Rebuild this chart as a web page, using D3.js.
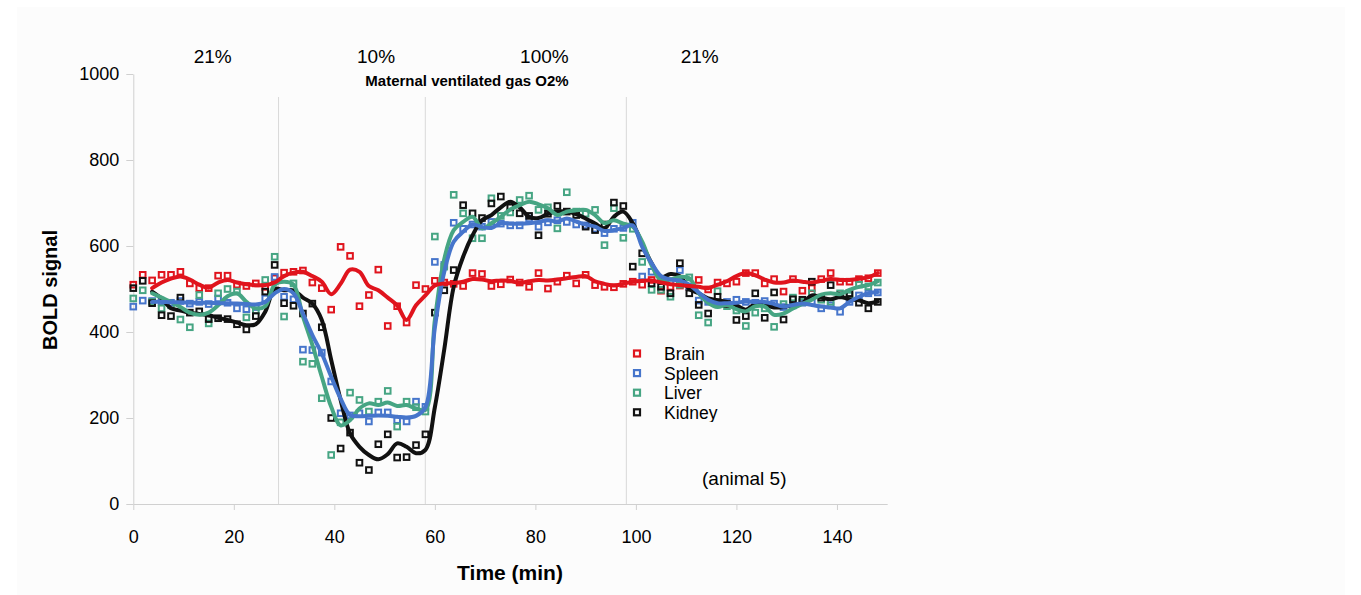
<!DOCTYPE html>
<html>
<head>
<meta charset="utf-8">
<script src="https://cdn.jsdelivr.net/npm/d3@7"></script>
<style>
  body { margin: 0; background: #ffffff; }
  text { font-family: "Liberation Sans", Arial, sans-serif; fill: #000; }
</style>
</head>
<body>
<div id="chart"></div>
<script>
// sample times (min), one scan every 112.5 s
var times = [0, 1.875, 3.75, 5.625, 7.5, 9.375, 11.25, 13.125, 15, 16.875,
  18.75, 20.625, 22.5, 24.375, 26.25, 28.125, 30, 31.875, 33.75, 35.625,
  37.5, 39.375, 41.25, 43.125, 45, 46.875, 48.75, 50.625, 52.5, 54.375,
  56.25, 58.125, 60, 61.875, 63.75, 65.625, 67.5, 69.375, 71.25, 73.125,
  75, 76.875, 78.75, 80.625, 82.5, 84.375, 86.25, 88.125, 90, 91.875,
  93.75, 95.625, 97.5, 99.375, 101.25, 103.125, 105, 106.875, 108.75, 110.625,
  112.5, 114.375, 116.25, 118.125, 120, 121.875, 123.75, 125.625, 127.5, 129.375,
  131.25, 133.125, 135, 136.875, 138.75, 140.625, 142.5, 144.375, 146.25, 148.125];

var brainPts = [510,533,520,533,533,540,513,502,502,531, 531,510,507,513,505,525,538,540,543,515,
  502,452,598,577,460,486,545,414,460,422, 509,500,519,515,512,507,537,535,507,511,
  522,515,505,537,501,517,531,513,533,509, 505,504,512,517,510,521,496,505,508,505,
  521,499,515,513,517,537,537,513,523,494, 523,496,502,523,537,517,517,523,525,537];
var brainFit = [null,null,502,515,524,529,522,510,503,515, 521,515,511,509,509,515,530,538,540,530,
  517,488,512,545,540,507,497,480,462,428, 462,485,508,513,514,517,523,522,518,520,
  519,514,518,521,520,522,525,528,530,518, 512,508,512,517,519,520,515,511,509,507,
  505,502,510,518,530,537,532,522,515,515, 520,517,515,519,523,521,521,524,527,537];

var spleenPts = [459,473,472,470,468,472,466,470,465,478, 468,455,453,458,478,528,482,476,359,358,
  352,285,211,206,211,192,213,213,195,192, 238,226,563,556,654,640,650,645,656,652,
  648,648,664,645,655,660,656,650,648,640, 630,640,642,654,529,540,520,518,544,505,
  473,470,465,470,475,470,468,472,466,458, 462,468,470,455,462,447,470,485,490,492];
var spleenFit = [null,null,470,470,469,469,468,468,468,467, 467,466,465,464,470,490,500,490,443,393,
  350,296,245,207,204,205,206,205,203,201, 205,225,410,540,610,633,650,644,642,653,
  652,652,653,656,660,657,664,657,650,645, 635,637,642,648,598,560,530,522,520,510,
  492,475,467,467,468,471,470,470,465,459, 463,466,463,459,457,455,470,482,490,493];

var liverPts = [478,497,470,455,462,429,411,486,420,490, 500,494,434,450,521,575,436,513,331,326,
  246,114,190,259,242,215,238,263,180,238, 225,215,622,552,719,676,618,618,711,670,
  678,707,717,684,690,641,725,680,675,684, 602,688,619,640,563,498,498,482,510,527,
  439,422,495,460,450,414,445,455,412,465, 480,470,490,475,470,490,485,510,506,515];
var liverFit = [null,null,490,480,470,458,445,440,445,462, 483,490,470,455,460,510,517,510,436,370,
  296,226,183,195,222,234,230,236,228,230, 222,219,428,570,637,656,668,641,653,668,
  685,695,703,697,688,672,680,683,684,672, 653,660,652,645,610,555,520,522,528,525,
  490,468,458,463,453,448,460,459,440,443, 455,465,475,487,490,488,498,505,509,518];

var kidneyPts = [502,519,467,439,437,480,445,448,430,432, 430,418,406,437,494,556,467,461,443,466,
  411,200,129,166,96,79,139,162,108,109, 137,162,445,497,544,695,676,665,699,715,
  690,676,670,625,675,693,680,672,645,637, 650,701,693,552,583,513,505,490,560,490,
  463,443,482,465,428,437,490,433,492,429, 476,475,517,480,509,485,490,468,455,470];
var kidneyFit = [null,null,494,478,455,450,445,442,439,433, 428,422,416,418,447,500,497,497,480,466,
  428,335,242,164,133,114,104,116,141,133, 118,126,225,360,505,575,625,660,672,690,
  703,690,668,665,675,680,680,674,664,652, 641,668,680,653,605,560,527,535,530,500,
  490,478,474,470,462,452,465,463,457,458, 463,467,485,480,476,482,476,474,467,471];

var seriesNames = ["Brain", "Spleen", "Liver", "Kidney"];
var seriesColors = ["#e0141d", "#4675cb", "#46a583", "#111111"];

// gas switch times and the O2% phase labels
var switchTimes = [28.9, 58.1, 98.1];
var phaseLabels = ["21%", "10%", "100%", "21%"];
var phaseCentres = [15.8, 48.3, 81.8, 112.7];

var xTicks = [0, 20, 40, 60, 80, 100, 120, 140];
var yTicks = [0, 200, 400, 600, 800, 1000];

var series = [
  { name: seriesNames[0], color: seriesColors[0], pts: brainPts, fit: brainFit },
  { name: seriesNames[1], color: seriesColors[1], pts: spleenPts, fit: spleenFit },
  { name: seriesNames[2], color: seriesColors[2], pts: liverPts, fit: liverFit },
  { name: seriesNames[3], color: seriesColors[3], pts: kidneyPts, fit: kidneyFit }
];

var svgWidth = 1361, svgHeight = 595;
var svg = d3.select("#chart").append("svg")
  .attr("width", svgWidth)
  .attr("height", svgHeight);

// faint panel like the original export
svg.append("rect")
  .attr("x", 17).attr("y", 7)
  .attr("width", 1328).attr("height", 588)
  .attr("fill", "#fcfcfc");

var x = d3.scaleLinear().domain([0, 150]).range([133.3, 887.2]);
var y = d3.scaleLinear().domain([0, 1000]).range([504, 74]);

// vertical marker lines for gas switches
svg.selectAll(".switch")
  .data(switchTimes)
  .enter().append("line")
  .attr("class", "switch")
  .attr("x1", d => x(d)).attr("x2", d => x(d))
  .attr("y1", 97).attr("y2", y(0))
  .attr("stroke", "#d9d9d9")
  .attr("stroke-width", 1);

// axes
var xAxis = svg.append("g")
  .attr("transform", `translate(0, ${y(0)})`)
  .call(d3.axisBottom(x).tickValues(xTicks).tickSize(6).tickSizeOuter(0).tickPadding(20));
var yAxis = svg.append("g")
  .attr("transform", `translate(${x(0)}, 0)`)
  .call(d3.axisLeft(y).tickValues(yTicks).tickFormat(d3.format("d"))
    .tickSize(7).tickSizeOuter(0).tickPadding(7));

[xAxis, yAxis].forEach(function (g) {
  g.select(".domain").attr("stroke", "#d0d0d0");
  g.selectAll(".tick line").attr("stroke", "#d0d0d0");
  g.selectAll(".tick text")
    .style("font-family", "'Liberation Sans', Arial, sans-serif")
    .style("font-size", "18px")
    .attr("fill", "#000");
});
xAxis.selectAll(".tick text").attr("dy", "0.71em");

// scatter points
series.forEach(function (s) {
  svg.append("g").selectAll("rect")
    .data(s.pts)
    .enter().append("rect")
    .attr("x", (d, i) => x(times[i]) - 2.8)
    .attr("y", d => y(d) - 2.8)
    .attr("width", 5.6).attr("height", 5.6)
    .attr("fill", "none")
    .attr("stroke", s.color)
    .attr("stroke-width", 2);
});

// smoothed lines
var line = d3.line()
  .defined(d => d != null)
  .x((d, i) => x(times[i]))
  .y(d => y(d))
  .curve(d3.curveCatmullRom.alpha(0.5));

[3, 2, 1, 0].forEach(function (k) {
  var s = series[k];
  svg.append("path")
    .datum(s.fit)
    .attr("d", line)
    .attr("fill", "none")
    .attr("stroke", s.color)
    .attr("stroke-width", 4)
    .attr("stroke-linejoin", "round")
    .attr("stroke-linecap", "round");
});

// phase labels
svg.selectAll(".phase")
  .data(phaseLabels)
  .enter().append("text")
  .attr("class", "phase")
  .attr("x", (d, i) => x(phaseCentres[i]))
  .attr("y", 63)
  .attr("text-anchor", "middle")
  .style("font-size", "19px")
  .text(d => d);

svg.append("text")
  .attr("x", 467).attr("y", 86)
  .attr("text-anchor", "middle")
  .style("font-size", "15px")
  .style("font-weight", "bold")
  .text("Maternal ventilated gas O2%");

// axis titles
svg.append("text")
  .attr("transform", "translate(57, 290) rotate(-90)")
  .attr("text-anchor", "middle")
  .style("font-size", "20px")
  .style("font-weight", "bold")
  .text("BOLD signal");

svg.append("text")
  .attr("x", 510).attr("y", 580)
  .attr("text-anchor", "middle")
  .style("font-size", "21px")
  .style("font-weight", "bold")
  .text("Time (min)");

// legend (bottom row is clipped in the original)
svg.append("clipPath").attr("id", "legendClip")
  .append("rect").attr("x", 620).attr("y", 340).attr("width", 180).attr("height", 82);

var legend = svg.append("g").attr("clip-path", "url(#legendClip)");
var legendStep = 19.6;
series.forEach(function (s, i) {
  var ly = 353.5 + i * legendStep;
  legend.append("rect")
    .attr("x", 634).attr("y", ly - 3)
    .attr("width", 6).attr("height", 6)
    .attr("fill", "none")
    .attr("stroke", s.color)
    .attr("stroke-width", 2.2);
  legend.append("text")
    .attr("x", 664).attr("y", ly + 6.5)
    .style("font-size", "17.5px")
    .text(s.name);
});

svg.append("text")
  .attr("x", 702).attr("y", 485)
  .style("font-size", "19px")
  .text("(animal 5)");
</script>
</body>
</html>
